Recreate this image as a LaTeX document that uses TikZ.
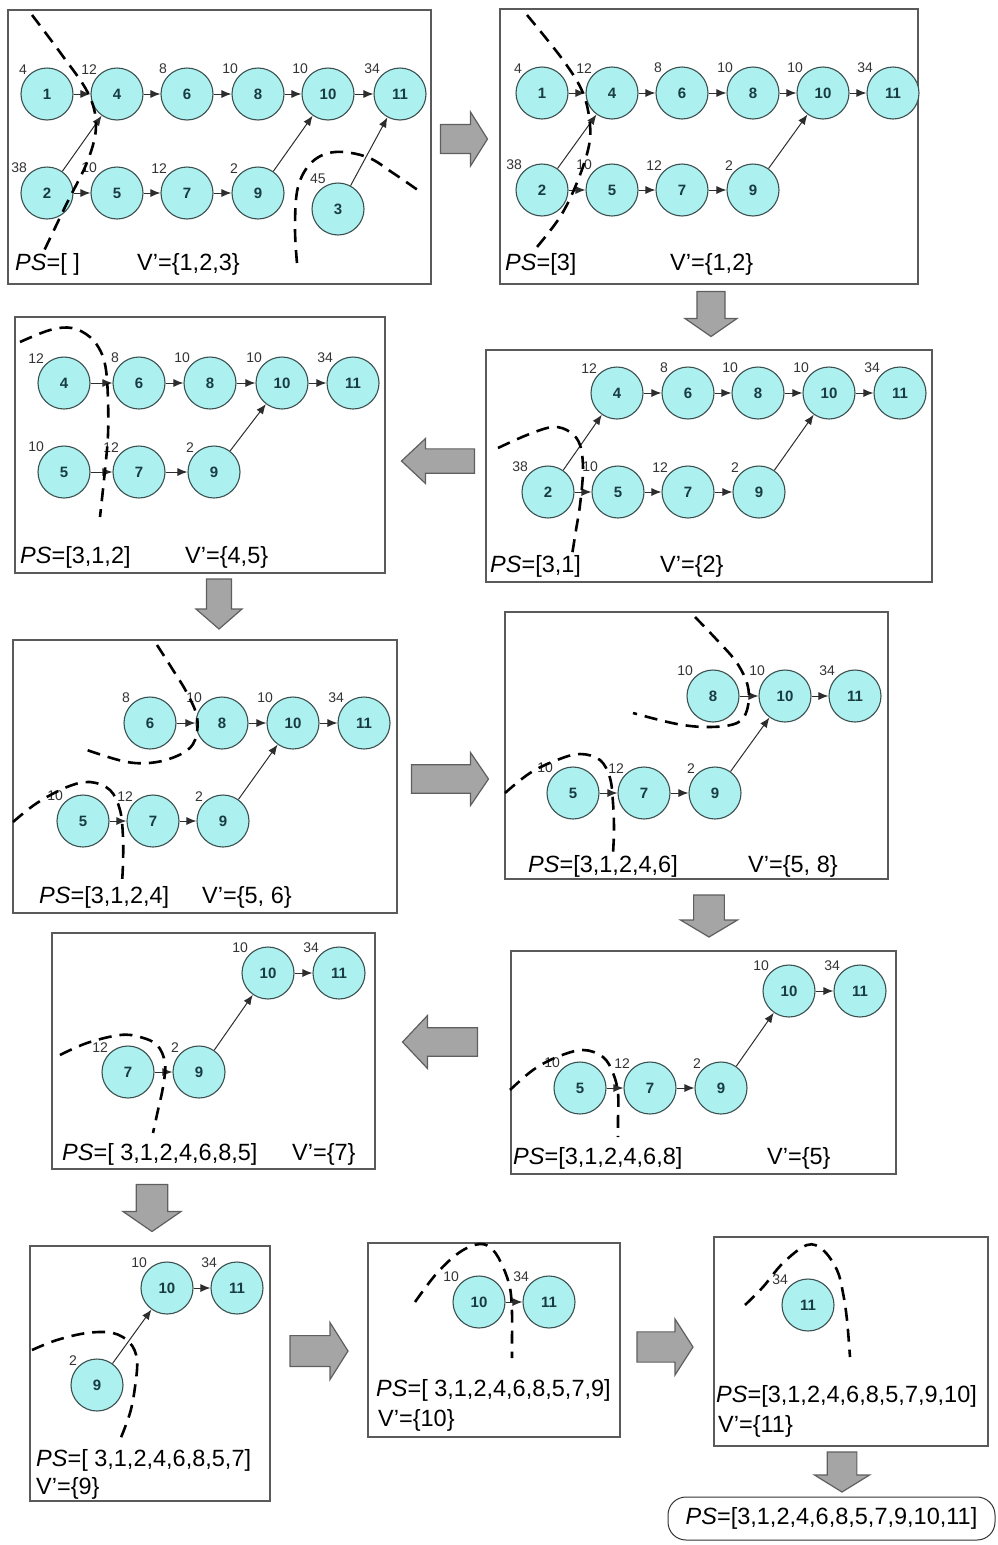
\documentclass[tikz,border=0pt]{standalone}
\usepackage{fontspec}
\setmainfont{Liberation Sans}
\usetikzlibrary{arrows.meta}

\definecolor{nodefill}{RGB}{172,240,240}
\definecolor{nodeline}{RGB}{60,80,80}
\definecolor{nodetext}{RGB}{25,60,65}
\definecolor{edgecol}{RGB}{45,45,45}
\definecolor{boxline}{RGB}{90,90,90}
\definecolor{arrfill}{RGB}{165,165,165}
\definecolor{arrline}{RGB}{95,95,95}

% vertex with its weight written at the upper left
\newcommand\vx[5][135]{\node[vtx,label={[wt]#1:#5}] (#2) at (#3) {#4};}

% horizontal block arrow: cx, cy, direction (1 right / -1 left), length, head width, head length
\newcommand\harrow[6]{%
  \filldraw[blockarr]
    ({#1-(#3)*#4/2},{#2-0.27*#5}) -- ({#1+(#3)*(#4/2-#6)},{#2-0.27*#5}) --
    ({#1+(#3)*(#4/2-#6)},{#2-#5/2}) -- ({#1+(#3)*#4/2},{#2}) --
    ({#1+(#3)*(#4/2-#6)},{#2+#5/2}) -- ({#1+(#3)*(#4/2-#6)},{#2+0.27*#5}) --
    ({#1-(#3)*#4/2},{#2+0.27*#5}) -- cycle;}
% downward block arrow: cx, cy, length, head width, head length
\newcommand\varrow[5]{%
  \filldraw[blockarr]
    ({#1-0.27*#4},{#2-#3/2}) -- ({#1-0.27*#4},{#2+#3/2-#5}) --
    ({#1-#4/2},{#2+#3/2-#5}) -- ({#1},{#2+#3/2}) --
    ({#1+#4/2},{#2+#3/2-#5}) -- ({#1+0.27*#4},{#2+#3/2-#5}) --
    ({#1+0.27*#4},{#2-#3/2}) -- cycle;}

\begin{document}
\begin{tikzpicture}[x=1pt,y=-1pt,
  vtx/.style={circle,draw=nodeline,fill=nodefill,line width=1.1pt,minimum size=52pt,inner sep=0pt,
    text=nodetext,font=\fontsize{15}{15}\selectfont\bfseries},
  wt/.style={inner sep=1pt,text=black!80,font=\fontsize{14}{14}\selectfont},
  edge/.style={draw=edgecol,line width=1pt,-{Latex[length=10pt,width=8pt]}},
  cutline/.style={draw=black,line width=2.6pt,dash pattern=on 13pt off 8pt},
  panel/.style={draw=boxline,line width=1.4pt},
  pstext/.style={anchor=base west,inner sep=0pt,font=\fontsize{23.5}{26}\selectfont},
  blockarr/.style={fill=arrfill,draw=arrline,line width=1.2pt,line join=miter}]
\useasboundingbox (0,0) rectangle (998,1545);

% ---------- step 1 ----------
\draw[panel] (8,10) rectangle (431,284);
\vx{a1}{47,94}{1}{4}
\vx{a4}{117,94}{4}{12}
\vx{a6}{187,94}{6}{8}
\vx{a8}{258,94}{8}{10}
\vx{a10}{328,94}{10}{10}
\vx{a11}{400,94}{11}{34}
\vx{a2}{47,193}{2}{38}
\vx{a5}{117,193}{5}{10}
\vx{a7}{187,193}{7}{12}
\vx{a9}{258,193}{9}{2}
\vx[115]{a3}{338,209}{3}{45}
\foreach \s/\t in {a1/a4,a4/a6,a6/a8,a8/a10,a10/a11,a2/a5,a5/a7,a7/a9,a2/a4,a9/a10,a3/a11}
  \draw[edge] (\s) -- (\t);
\draw[cutline] plot[smooth,tension=0.6] coordinates {(32,15) (62,55) (88,93) (96,125) (88,160) (66,205) (43,253)};
\draw[cutline] plot[smooth,tension=0.6] coordinates {(297,263) (295,227) (298,187) (312,162) (335,152) (367,157) (393,173) (422,193)};
\node[pstext] (ps1) at (15,270) {\textit{PS}=[ ]};
\node[pstext] (v1) at (137,270) {V'=\{1,2,3\}};

\harrow{464}{139}{1}{47}{54}{17}

% ---------- step 2 ----------
\draw[panel] (500,9) rectangle (918,284);
\vx{b1}{542,93}{1}{4}
\vx{b4}{612,93}{4}{12}
\vx{b6}{682,93}{6}{8}
\vx{b8}{753,93}{8}{10}
\vx{b10}{823,93}{10}{10}
\vx{b11}{893,93}{11}{34}
\vx{b2}{542,190}{2}{38}
\vx{b5}{612,190}{5}{10}
\vx{b7}{682,190}{7}{12}
\vx{b9}{753,190}{9}{2}
\foreach \s/\t in {b1/b4,b4/b6,b6/b8,b8/b10,b10/b11,b2/b5,b5/b7,b7/b9,b2/b4,b9/b10}
  \draw[edge] (\s) -- (\t);
\draw[cutline] plot[smooth,tension=0.6] coordinates {(527,15) (563,60) (583,93) (590,125) (588,150) (576,185) (560,217) (537,247)};
\node[pstext] (ps2) at (505,270) {\textit{PS}=[3]};
\node[pstext] (v2) at (670,270) {V'=\{1,2\}};

\varrow{711}{314}{45}{52}{18}

% ---------- step 3 ----------
\draw[panel] (486,350) rectangle (932,582);
\vx{c4}{617,393}{4}{12}
\vx{c6}{688,393}{6}{8}
\vx{c8}{758,393}{8}{10}
\vx{c10}{829,393}{10}{10}
\vx{c11}{900,393}{11}{34}
\vx{c2}{548,492}{2}{38}
\vx{c5}{618,492}{5}{10}
\vx{c7}{688,492}{7}{12}
\vx{c9}{759,492}{9}{2}
\foreach \s/\t in {c4/c6,c6/c8,c8/c10,c10/c11,c2/c5,c5/c7,c7/c9,c2/c4,c9/c10}
  \draw[edge] (\s) -- (\t);
\draw[cutline] plot[smooth,tension=0.6] coordinates {(498,448) (527,435) (553,427) (570,432) (580,445) (583,470) (580,505) (576,530) (572,555)};
\node[pstext] (ps3) at (490,572) {\textit{PS}=[3,1]};
\node[pstext] (v3) at (660,572) {V'=\{2\}};

\harrow{438}{461}{-1}{73}{45}{24}

% ---------- step 4 ----------
\draw[panel] (15,317) rectangle (385,573);
\vx{d4}{64,383}{4}{12}
\vx{d6}{139,383}{6}{8}
\vx{d8}{210,383}{8}{10}
\vx{d10}{282,383}{10}{10}
\vx{d11}{353,383}{11}{34}
\vx{d5}{64,472}{5}{10}
\vx{d7}{139,472}{7}{12}
\vx{d9}{214,472}{9}{2}
\foreach \s/\t in {d4/d6,d6/d8,d8/d10,d10/d11,d5/d7,d7/d9,d9/d10}
  \draw[edge] (\s) -- (\t);
\draw[cutline] plot[smooth,tension=0.6] coordinates {(20,342) (50,330) (72,328) (90,337) (101,352) (106,370) (108,400) (108,435) (105,470) (100,517)};
\node[pstext] (ps4) at (20,563) {\textit{PS}=[3,1,2]};
\node[pstext] (v4) at (185,563) {V'=\{4,5\}};

\varrow{219}{604}{50}{46}{20}

% ---------- step 5 ----------
\draw[panel] (13,640) rectangle (397,913);
\vx{e6}{150,723}{6}{8}
\vx{e8}{222,723}{8}{10}
\vx{e10}{293,723}{10}{10}
\vx{e11}{364,723}{11}{34}
\vx{e5}{83,821}{5}{10}
\vx{e7}{153,821}{7}{12}
\vx{e9}{223,821}{9}{2}
\foreach \s/\t in {e6/e8,e8/e10,e10/e11,e5/e7,e7/e9,e9/e10}
  \draw[edge] (\s) -- (\t);
\draw[cutline] plot[smooth,tension=0.6] coordinates {(157,645) (173,670) (187,693) (197,717) (195,740) (183,753) (157,762) (127,762) (87,750)};
\draw[cutline] plot[smooth,tension=0.6] coordinates {(13,822) (37,803) (67,787) (90,782) (110,790) (120,810) (123,837) (123,863) (122,883)};
\node[pstext] (ps5) at (39,903) {\textit{PS}=[3,1,2,4]};
\node[pstext] (v5) at (202,903) {V'=\{5, 6\}};

\harrow{450}{779}{1}{77}{53}{18}

% ---------- step 6 ----------
\draw[panel] (505,612) rectangle (888,879);
\vx{f8}{713,696}{8}{10}
\vx{f10}{785,696}{10}{10}
\vx{f11}{855,696}{11}{34}
\vx{f5}{573,793}{5}{10}
\vx{f7}{644,793}{7}{12}
\vx{f9}{715,793}{9}{2}
\foreach \s/\t in {f8/f10,f10/f11,f5/f7,f7/f9,f9/f10}
  \draw[edge] (\s) -- (\t);
\draw[cutline] plot[smooth,tension=0.6] coordinates {(695,617) (717,640) (737,663) (748,687) (747,710) (737,723) (710,727) (677,724) (633,713)};
\draw[cutline] plot[smooth,tension=0.6] coordinates {(505,793) (530,773) (557,760) (580,754) (600,760) (610,778) (613,803) (614,830) (613,853)};
\node[pstext] (ps6) at (528,872) {\textit{PS}=[3,1,2,4,6]};
\node[pstext] (v6) at (748,872) {V'=\{5, 8\}};

\varrow{709}{916}{42}{57}{17}

% ---------- step 7 ----------
\draw[panel] (511,951) rectangle (896,1174);
\vx{g10}{789,991}{10}{10}
\vx{g11}{860,991}{11}{34}
\vx{g5}{580,1088}{5}{10}
\vx{g7}{650,1088}{7}{12}
\vx{g9}{721,1088}{9}{2}
\foreach \s/\t in {g10/g11,g5/g7,g7/g9,g9/g10}
  \draw[edge] (\s) -- (\t);
\draw[cutline] plot[smooth,tension=0.6] coordinates {(510,1090) (533,1070) (557,1057) (583,1050) (603,1057) (613,1073) (618,1093) (618,1120) (618,1137)};
\node[pstext] (ps7) at (513,1164) {\textit{PS}=[3,1,2,4,6,8]};
\node[pstext] (v7) at (767,1164) {V'=\{5\}};

\harrow{440}{1042}{-1}{75}{53}{25}

% ---------- step 8 ----------
\draw[panel] (52,933) rectangle (375,1169);
\vx{h10}{268,973}{10}{10}
\vx{h11}{339,973}{11}{34}
\vx{h7}{128,1072}{7}{12}
\vx{h9}{199,1072}{9}{2}
\foreach \s/\t in {h10/h11,h7/h9,h9/h10}
  \draw[edge] (\s) -- (\t);
\draw[cutline] plot[smooth,tension=0.6] coordinates {(60,1055) (87,1043) (120,1035) (140,1037) (157,1045) (165,1063) (163,1087) (158,1110) (153,1133)};
\node[pstext] (ps8) at (62,1160) {\textit{PS}=[ 3,1,2,4,6,8,5]};
\node[pstext] (v8) at (292,1160) {V'=\{7\}};

\varrow{152}{1208}{47}{58}{20}

% ---------- step 9 ----------
\draw[panel] (30,1246) rectangle (270,1501);
\vx{i10}{167,1288}{10}{10}
\vx{i11}{237,1288}{11}{34}
\vx{i9}{97,1385}{9}{2}
\foreach \s/\t in {i10/i11,i9/i10}
  \draw[edge] (\s) -- (\t);
\draw[cutline] plot[smooth,tension=0.6] coordinates {(32,1350) (57,1340) (87,1333) (113,1333) (130,1343) (137,1360) (135,1387) (130,1413) (120,1440)};
\node[pstext] (ps9) at (36,1466) {\textit{PS}=[ 3,1,2,4,6,8,5,7]};
\node[pstext] (v9) at (36,1494) {V'=\{9\}};

\harrow{319}{1351}{1}{58}{57}{18}

% ---------- step 10 ----------
\draw[panel] (368,1243) rectangle (620,1437);
\vx{j10}{479,1302}{10}{10}
\vx{j11}{549,1302}{11}{34}
\draw[edge] (j10) -- (j11);
\draw[cutline] plot[smooth,tension=0.6] coordinates {(415,1302) (437,1273) (460,1252) (480,1244) (493,1250) (503,1267) (510,1288) (512,1313) (512,1340) (512,1358)};
\node[pstext] (ps10) at (376,1396) {\textit{PS}=[ 3,1,2,4,6,8,5,7,9]};
\node[pstext] (v10) at (378,1426) {V'=\{10\}};

\harrow{665}{1347}{1}{56}{56}{18}

% ---------- step 11 ----------
\draw[panel] (714,1237) rectangle (988,1446);
\vx{k11}{808,1305}{11}{34}
\draw[cutline] plot[smooth,tension=0.6] coordinates {(745,1305) (763,1287) (783,1263) (807,1245) (823,1250) (837,1270) (843,1293) (847,1320) (850,1357)};
\node[pstext] (ps11) at (716,1402) {\textit{PS}=[3,1,2,4,6,8,5,7,9,10]};
\node[pstext] (v11) at (718,1432) {V'=\{11\}};

\varrow{842}{1472}{40}{55}{17}

% ---------- final sequence ----------
\node[draw=black!80,line width=1pt,rounded corners=18pt,minimum width=327pt,minimum height=43pt,
  inner sep=0pt,font=\fontsize{23.5}{26}\selectfont] (res) at (831.5,1518.5)
  {\textit{PS}=[3,1,2,4,6,8,5,7,9,10,11]};
\end{tikzpicture}
\end{document}
